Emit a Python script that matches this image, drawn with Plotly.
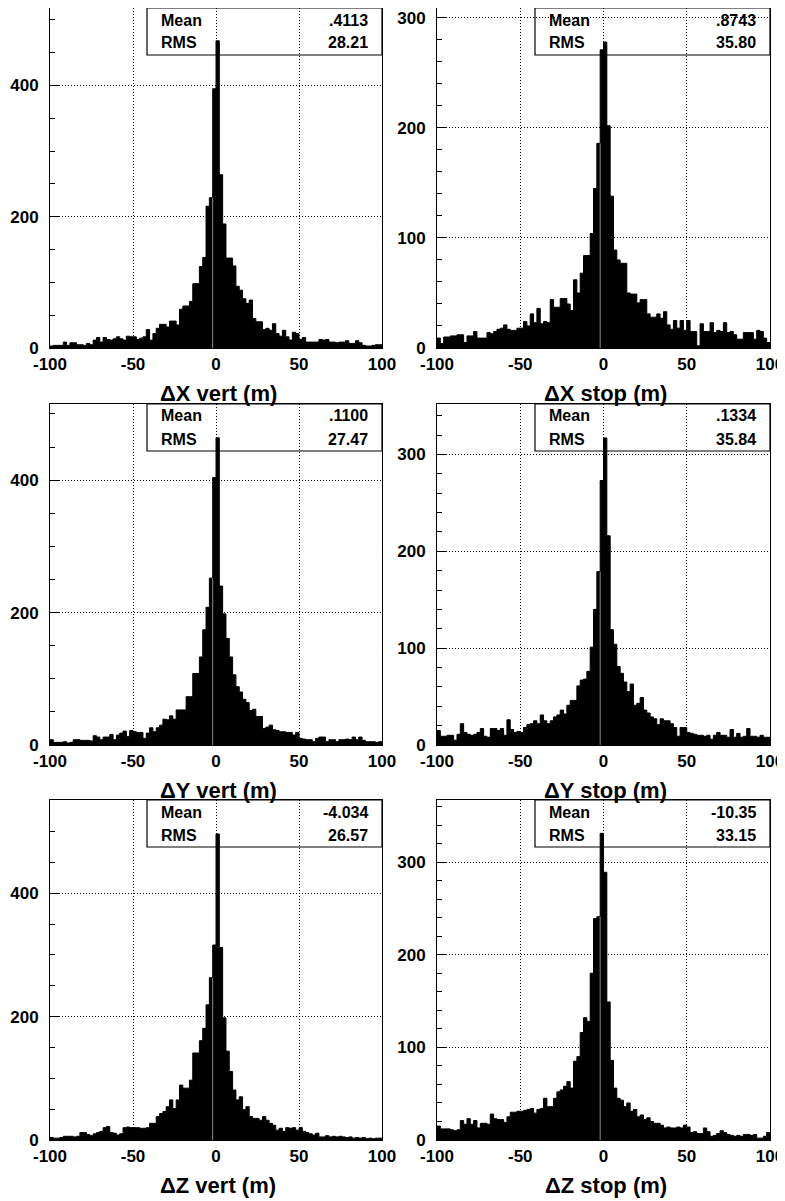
import plotly.graph_objects as go
import numpy as np

# ---------------- data (counts per 2 m bin, from -100 to 100) ----------------
BIN_LO, BIN_HI, BIN_W = -100, 100, 2

dx_vert = [3, 4, 4, 4, 9, 4, 8, 8, 5, 5, 4, 7, 5, 12, 16, 9, 16, 13, 12, 14, 17, 14, 12, 18, 17,
           17, 13, 15, 17, 28, 12, 22, 30, 36, 36, 32, 41, 41, 35, 59, 64, 64, 71, 98, 98, 124, 138, 216, 229, 395,
           468, 264, 189, 137, 137, 125, 94, 88, 75, 68, 73, 45, 40, 40, 28, 30, 27, 37, 22, 18,
           27, 17, 12, 24, 22, 13, 16, 9, 9, 9, 9, 13, 12, 13, 9, 9, 8, 9, 9, 11, 7, 7, 11, 8, 4, 3, 3, 4, 5, 5]

dx_stop = [9, 4, 10, 10, 11, 11, 12, 12, 5, 11, 11, 15, 9, 9, 9, 14, 13, 15, 17, 18,
           21, 17, 16, 16, 18, 18, 24, 20, 31, 23, 36, 22, 24, 23,
           44, 37, 37, 45, 45, 40, 34, 62, 50, 68, 84, 84, 104, 145, 186, 271,
           278, 202, 138, 89, 80, 77, 77, 50, 49, 49, 41, 44, 44, 31, 28, 28, 31, 27, 33, 21,
           17, 25, 18, 25, 16, 25, 15, 15, 2, 22, 15, 15, 23, 14, 16, 15, 23, 14, 15, 12,
           8, 8, 14, 14, 14, 8, 16, 15, 9, 5]

dy_vert = [8, 4, 4, 4, 5, 3, 4, 8, 8, 7, 7, 7, 6, 14, 12, 8, 12, 12, 16, 8, 15, 18, 21, 13, 22,
           20, 19, 19, 10, 18, 26, 20, 26, 30, 39, 38, 44, 39, 53, 53, 53, 73, 73, 108, 108,
           133, 174, 208, 252, 404,
           464, 240, 198, 161, 133, 106, 88, 80, 69, 64, 52, 54, 43, 43, 25, 27, 30, 23, 22, 20,
           20, 19, 19, 15, 19, 10, 9, 8, 8, 5, 10, 12, 12, 5, 8, 8, 5, 8, 8, 9, 8, 12, 8, 12, 7,
           5, 5, 5, 4, 5]

dy_stop = [15, 9, 9, 10, 10, 5, 11, 22, 13, 11, 10, 11, 13, 17, 9, 8, 17, 17, 15, 17, 10, 26, 16, 13, 14,
           13, 18, 21, 22, 25, 22, 31, 25, 22, 25, 29, 31, 36, 32, 41, 46, 46, 61, 67, 68,
           76, 101, 140, 179, 273,
           317, 216, 119, 104, 81, 74, 65, 55, 63, 41, 43, 49, 36, 33, 29, 27, 21, 27, 25, 25,
           22, 18, 9, 18, 18, 13, 12, 11, 10, 10, 9, 10, 6, 10, 13, 10, 10, 8, 16, 8, 12, 8, 9, 17, 9,
           9, 8, 10, 8, 8]

dz_vert = [4, 3, 3, 4, 6, 6, 6, 5, 6, 12, 12, 9, 7, 10, 12, 14, 20, 22, 12, 11, 8, 10, 20, 21, 20,
           20, 20, 19, 19, 20, 27, 27, 38, 43, 46, 54, 65, 51, 65, 89, 84, 84, 97, 141, 141,
           161, 181, 219, 263, 316,
           496, 312, 198, 144, 111, 81, 65, 70, 49, 54, 38, 35, 35, 32, 38, 32, 27, 24, 16, 19,
           14, 20, 19, 20, 16, 20, 14, 12, 10, 8, 11, 5, 5, 7, 5, 6, 5, 6, 5, 4, 5, 3, 4, 3, 4,
           2, 3, 2, 3, 3]

dz_stop = [15, 12, 12, 12, 11, 10, 11, 21, 17, 23, 17, 21, 13, 18, 18, 17, 28, 23, 22, 22, 19, 25, 30, 30, 31,
           31, 32, 33, 34, 29, 33, 34, 45, 36, 36, 45, 52, 54, 58, 63, 56, 85, 90, 116, 132,
           128, 180, 239, 241, 331,
           289, 149, 86, 56, 45, 43, 36, 40, 31, 33, 25, 27, 22, 24, 20, 18, 18, 16, 13, 14,
           13, 13, 14, 13, 16, 14, 8, 9, 7, 7, 13, 9, 4, 5, 7, 10, 8, 6, 5, 4, 5, 4, 6, 6, 5,
           6, 2, 2, 4, 8]

series = [dx_vert, dx_stop, dy_vert, dy_stop, dz_vert, dz_stop]
titles = ["ΔX vert (m)", "ΔX stop (m)", "ΔY vert (m)", "ΔY stop (m)", "ΔZ vert (m)", "ΔZ stop (m)"]
means = [".4113", ".8743", ".1100", ".1334", "-4.034", "-10.35"]
rmss = ["28.21", "35.80", "27.47", "35.84", "26.57", "33.15"]
x_ticks = [-100, -50, 0, 50, 100]

# ---------------- styling / geometry ----------------
PAGE_W, PAGE_H = 785, 1201
OFF = 8                      # default page body margin around the figure
W, H = PAGE_W - OFF, PAGE_H - OFF
y_top = [518, 309, 515, 352, 551, 367]
y_major = [200, 100, 200, 100, 200, 100]
y_minor = [50, 20, 50, 20, 50, 20]
col_px = [(50, 382), (437, 770)]          # page pixel positions of plot frames
row_px = [(8, 348), (404, 745), (800, 1140)]
stat_box_left = [147, 535]
FONT = "Liberation Sans"
DOT = "1px,2px"

def clamp(v):
    return min(1.0, max(0.0, v))

def px_x(x):
    return clamp((x - OFF) / W)

def px_y(y):
    return clamp(1 - (y - OFF) / H)

edges = np.arange(BIN_LO, BIN_HI + BIN_W, BIN_W)

fig = go.Figure()
shapes, annotations = [], []

for i, vals in enumerate(series):
    r, c = divmod(i, 2)
    n = "" if i == 0 else str(i + 1)
    xa, ya = "x" + n, "y" + n
    # histogram drawn as a filled step outline (bins of width BIN_W starting at each edge)
    fig.add_trace(go.Scatter(
        x=edges, y=list(vals) + [vals[-1]], xaxis=xa, yaxis=ya,
        mode="lines", line=dict(color="black", width=1, shape="hv"),
        fill="tozeroy", fillcolor="black", hoverinfo="x+y", showlegend=False))

    x0p, x1p = col_px[c]
    y0p, y1p = row_px[r]
    fig.layout["xaxis" + n] = dict(
        domain=[px_x(x0p), px_x(x1p)], anchor=ya, range=[BIN_LO, BIN_HI],
        tickmode="array", tickvals=x_ticks, ticktext=[str(t) for t in x_ticks],
        showgrid=True, gridcolor="black", griddash=DOT, gridwidth=1,
        showline=True, mirror=True, linecolor="black", linewidth=1,
        ticks="", zeroline=False, ticklabelstandoff=1, automargin=False,
        tickfont=dict(family=FONT, size=17, color="black", weight="bold"))
    fig.layout["yaxis" + n] = dict(
        domain=[px_y(y1p), px_y(y0p)], anchor=xa, range=[0, y_top[i]],
        tick0=0, dtick=y_major[i], ticks="inside", ticklen=9, tickcolor="black",
        minor=dict(dtick=y_minor[i], ticks="inside", ticklen=5, tickcolor="black", showgrid=False),
        showgrid=True, gridcolor="black", griddash=DOT, gridwidth=1,
        showline=True, mirror=True, linecolor="black", linewidth=1,
        zeroline=False, ticklabelstandoff=7, automargin=False,
        tickfont=dict(family=FONT, size=17, color="black", weight="bold"))

    # thin grey seam inside the peak (bin edge at -2)
    k = int((-2 - BIN_LO) / BIN_W)
    shapes.append(dict(type="line", xref=xa, yref=ya, x0=-2, x1=-2, y0=0,
                       y1=min(vals[k - 1], vals[k]), line=dict(color="#8a8a8a", width=1), layer="above"))

    # statistics box
    bl = stat_box_left[c]
    shapes.append(dict(type="rect", xref="paper", yref="paper",
                       x0=px_x(bl), x1=px_x(x1p), y0=px_y(y0p + 47), y1=px_y(y0p),
                       line=dict(color="black", width=1.2), fillcolor="rgba(0,0,0,0)", layer="above"))
    for label, val, dy in (("Mean", means[i], 12), ("RMS", rmss[i], 35)):
        annotations.append(dict(xref="paper", yref="paper", x=px_x(bl + 12), y=px_y(y0p + dy),
                                text=label, showarrow=False, xanchor="left", yanchor="middle",
                                font=dict(family=FONT, size=16, color="black", weight="bold")))
        annotations.append(dict(xref="paper", yref="paper", x=px_x(x1p - 12), y=px_y(y0p + dy),
                                text=val, showarrow=False, xanchor="right", yanchor="middle",
                                font=dict(family=FONT, size=16, color="black", weight="bold")))
    # axis title below each panel
    annotations.append(dict(xref="paper", yref="paper", x=px_x((x0p + x1p) / 2 + 2), y=px_y(y1p + 45),
                            text=titles[i], showarrow=False, xanchor="center", yanchor="middle",
                            font=dict(family=FONT, size=22, color="black", weight="bold")))

fig.update_layout(
    template="none",
    width=W, height=H, autosize=False,
    margin=dict(l=0, r=0, t=0, b=0, pad=0),
    paper_bgcolor="white", plot_bgcolor="white",
    showlegend=False,
    shapes=shapes, annotations=annotations,
)

fig.write_html("out.html")
